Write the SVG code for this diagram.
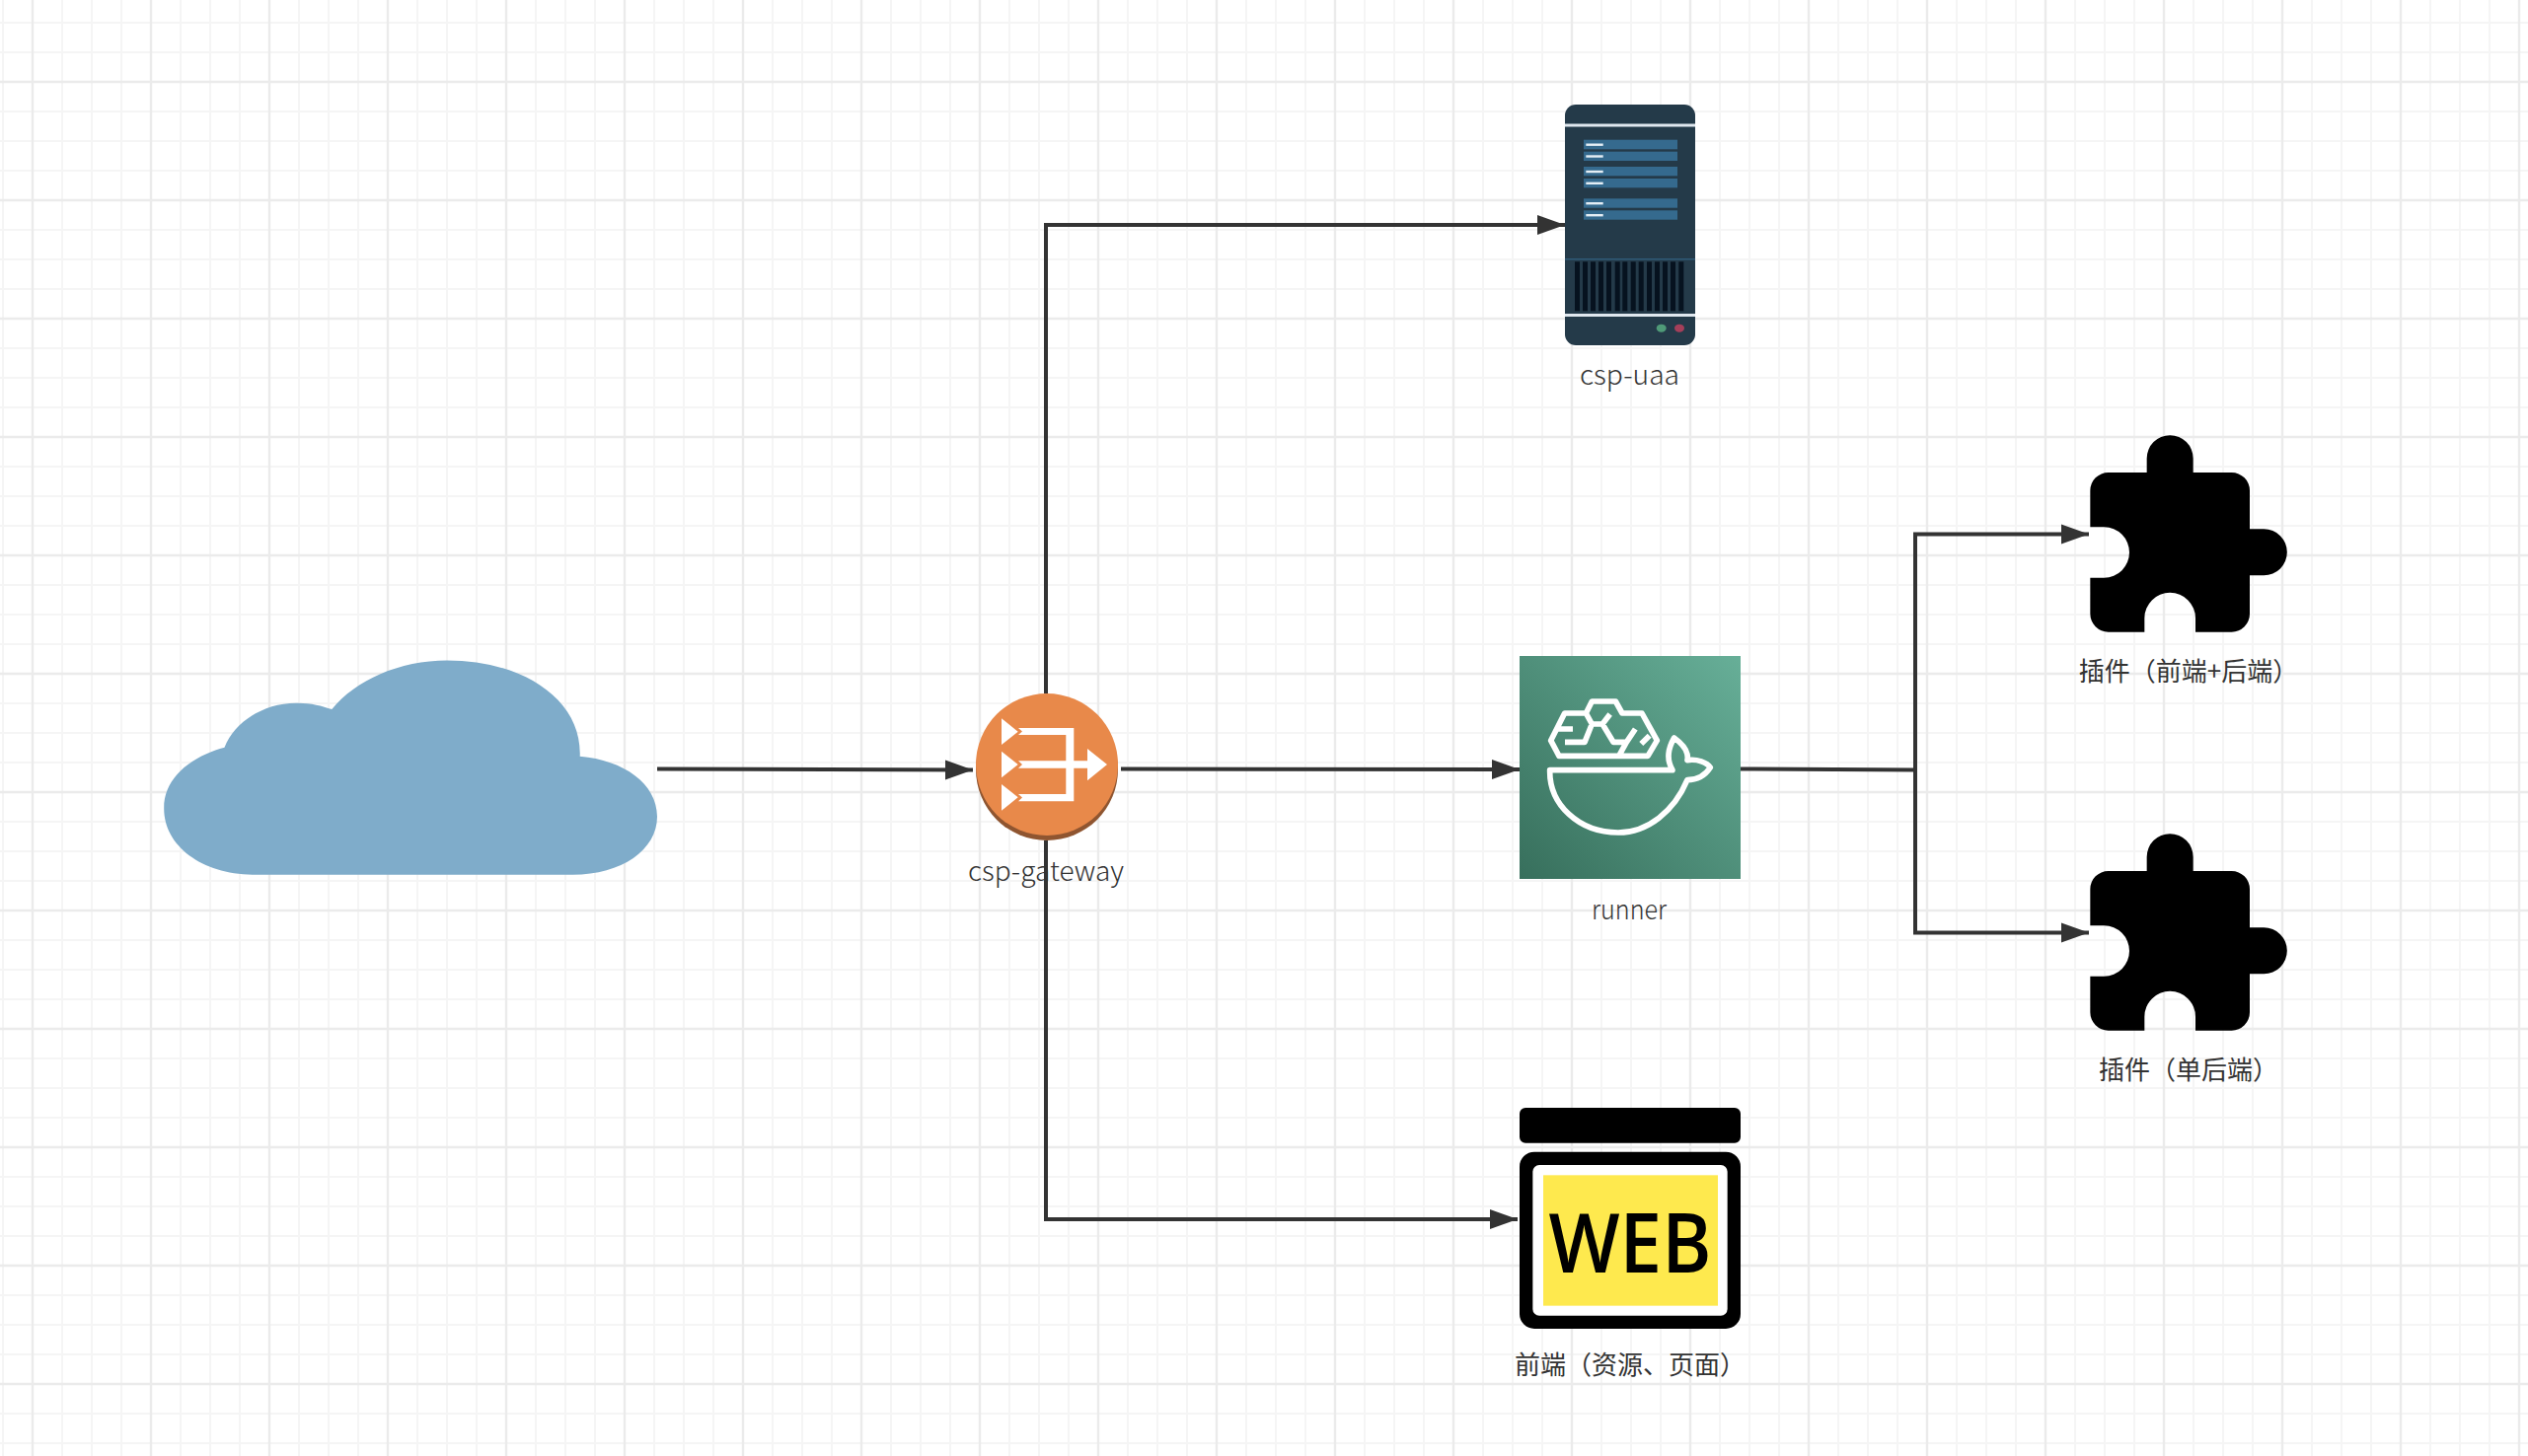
<svg xmlns="http://www.w3.org/2000/svg" width="2562" height="1476" viewBox="0 0 2562 1476">
<style>
.lbl{font-family:"Noto Sans CJK SC","Noto Sans",sans-serif;font-size:26px;fill:#333;text-anchor:middle;font-weight:400}
.lat{font-size:27px;font-weight:300}
.conn{fill:none;stroke:#333;stroke-width:4}
.minor{stroke:#f5f5f5;stroke-width:2}
.major{stroke:#ebebeb;stroke-width:2.400}
.bar{fill:#356a8e}
.dash{fill:#e4eef5}
.vent{fill:#06121f}
.whale{fill:none;stroke:#fff;stroke-width:17;stroke-linejoin:round}
</style>
<defs>
<pattern id="grid" patternUnits="userSpaceOnUse" width="120" height="120">
<path class="minor" d="M0 23H120M0 53H120M0 113H120M3 0V120M63 0V120M93 0V120"/>
<path class="major" d="M0 83H120M33 0V120"/>
</pattern>
<linearGradient id="runnerFill" x1="0" y1="1" x2="1" y2="0">
<stop offset="0" stop-color="#376f5c"/>
<stop offset="1" stop-color="#67af98"/>
</linearGradient>
<marker id="arrow" markerUnits="userSpaceOnUse" markerWidth="30" markerHeight="22" refX="28" refY="11" orient="auto">
<path d="M0 1L28 11L0 21Z" fill="#333"/>
</marker>
<path id="puzzle" transform="translate(2080 429) scale(.33333)" fill="#000" d="M170 150H287V107A70.500 70.500 0 0 1 428 107V150H545A55 55 0 0 1 600 205V322H643A70.500 70.500 0 0 1 643 463H600V580A55 55 0 0 1 545 635H435V593A77.500 77.500 0 0 0 280 593V635H170A55 55 0 0 1 115 580V470H157A77 77 0 0 0 157 316H115V205A55 55 0 0 1 170 150Z"/>
</defs>
<rect width="2562" height="1476" fill="#fff"/>
<rect width="2562" height="1476" fill="url(#grid)"/>

<g id="connectors">
<path class="conn" marker-end="url(#arrow)" d="M666 779.500L986 780.500"/>
<path class="conn" marker-end="url(#arrow)" d="M1060 703V228H1586"/>
<path class="conn" marker-end="url(#arrow)" d="M1136 779.500L1540 780"/>
<path class="conn" marker-end="url(#arrow)" d="M1060 852V1236H1538"/>
<path class="conn" marker-end="url(#arrow)" d="M1764 779.500L1941 780.500V541.500H2117"/>
<path class="conn" marker-end="url(#arrow)" d="M1941 780V945.500H2117"/>
</g>

<g id="cloud">
<path transform="translate(0 -.6)" fill="#7facca" d="M256.700 887.300C205 887 166 858 166.200 820C166 790 192 768 227.500 758.300C238 732 268 713 300.500 713.300C314 713 326 716 336.300 719.700C360 690 405 670 453 670C530 670 590 710 587.700 767.300C632 771 666 795 666 828.300C666 862 630 887.300 580.500 887.300Z"/>
</g>

<g id="csp-gateway">
<g transform="translate(0 -1)">
<circle cx="1061" cy="781" r="72" fill="#8f5530"/>
<circle cx="1061" cy="776" r="72" fill="#e8894a"/>
<path fill="#fff" d="M1015 729.300V756L1031.700 742.700ZM1015 762.700V789.300L1031.700 776ZM1015 796V822.700L1031.700 809.300Z"/>
<path fill="#fff" d="M1032 739H1088.300V772.300H1102V760L1122 776L1102 792.300V779.700H1088.300V813.300H1032L1036 809.500L1032 806H1080.300V779.700H1032L1036 776L1032 772.300H1080.300V746H1032L1036 742.500Z"/>
</g>
<text class="lbl lat" x="1060" y="893" textLength="158" lengthAdjust="spacingAndGlyphs">csp-gateway</text>
</g>

<g id="csp-uaa">
<rect x="1586" y="106" width="132" height="244" rx="11" fill="#243a49"/>
<rect x="1586" y="125.500" width="132" height="3" fill="#e0e8ef"/>
<rect x="1586" y="318" width="132" height="3" fill="#e0e8ef"/>
<rect x="1586" y="262" width="132" height="1.500" fill="#2f5a78"/>
<rect class="bar" x="1605" y="141.700" width="95" height="9.600"/>
<rect class="bar" x="1605" y="153.700" width="95" height="9.300"/>
<rect class="bar" x="1605" y="169" width="95" height="9.300"/>
<rect class="bar" x="1605" y="181" width="95" height="9.300"/>
<rect class="bar" x="1605" y="201.300" width="95" height="9.400"/>
<rect class="bar" x="1605" y="213.300" width="95" height="9.400"/>
<rect class="dash" x="1607.300" y="145.500" width="17.400" height="2.400"/>
<rect class="dash" x="1607.300" y="157.300" width="17.400" height="2.400"/>
<rect class="dash" x="1607.300" y="172.800" width="17.400" height="2.400"/>
<rect class="dash" x="1607.300" y="184.600" width="17.400" height="2.400"/>
<rect class="dash" x="1607.300" y="205" width="17.400" height="2.400"/>
<rect class="dash" x="1607.300" y="217" width="17.400" height="2.400"/>
<rect class="vent" x="1596" y="265.300" width="5" height="50"/>
<rect class="vent" x="1604" y="265.300" width="5" height="50"/>
<rect class="vent" x="1612" y="265.300" width="5" height="50"/>
<rect class="vent" x="1620" y="265.300" width="5" height="50"/>
<rect class="vent" x="1628" y="265.300" width="5" height="50"/>
<rect class="vent" x="1636.700" y="265.300" width="5" height="50"/>
<rect class="vent" x="1644.300" y="265.300" width="5" height="50"/>
<rect class="vent" x="1652.700" y="265.300" width="5" height="50"/>
<rect class="vent" x="1660.700" y="265.300" width="5" height="50"/>
<rect class="vent" x="1669" y="265.300" width="5" height="50"/>
<rect class="vent" x="1677" y="265.300" width="5" height="50"/>
<rect class="vent" x="1685" y="265.300" width="5" height="50"/>
<rect class="vent" x="1693" y="265.300" width="5" height="50"/>
<rect class="vent" x="1701.300" y="265.300" width="5" height="50"/>
<ellipse cx="1683.700" cy="332.700" rx="5" ry="4" fill="#4f9a78"/>
<ellipse cx="1702" cy="332.700" rx="5" ry="4" fill="#a53f5a"/>
<text class="lbl lat" x="1651.500" y="390" textLength="101" lengthAdjust="spacingAndGlyphs">csp-uaa</text>
</g>

<g id="runner">
<rect x="1540" y="665" width="224" height="226" fill="url(#runnerFill)"/>
<g transform="translate(1520 649) scale(.33333)">
<path class="whale" d="M152 395H525C510 370 505 340 530 297C555 315 575 340 570 365C600 360 630 372 640 387C625 410 600 425 570 425C530 520 450 585 360 585C240 585 150 500 152 395Z"/>
<path class="whale" d="M155 305L197 222H262L280 186H352L372 222H432L478 305L450 352H180ZM262 222L280 255H312L335 225M280 255L258 310H198M222 270H175M312 255L345 310H385L412 270M385 310L362 352M430 315L455 290"/>
</g>
<text class="lbl lat" x="1651" y="932" textLength="76" lengthAdjust="spacingAndGlyphs">runner</text>
</g>

<g id="frontend">
<g transform="translate(1520 1109) scale(.33333)">
<rect x="60" y="42" width="672" height="107" rx="18" fill="#000"/>
<rect x="60" y="176" width="672" height="538" rx="45" fill="#000"/>
<rect x="100" y="216" width="592" height="458" rx="20" fill="#fff"/>
<rect x="132" y="247" width="531" height="397" fill="#fee94e"/>
</g>
<text x="1652" y="1290" font-family="'Open Sans','Noto Sans',sans-serif" font-size="84" font-weight="600" fill="#000" text-anchor="middle" textLength="165" lengthAdjust="spacingAndGlyphs">WEB</text>
<text class="lbl" x="1652" y="1393">前端（资源、页面）</text>
</g>

<g id="plugin-full">
<use href="#puzzle"/>
<text class="lbl" x="2218" y="690">插件（前端+后端）</text>
</g>

<g id="plugin-backend">
<use href="#puzzle" transform="translate(0 404)"/>
<text class="lbl" x="2218" y="1094">插件（单后端）</text>
</g>
</svg>
